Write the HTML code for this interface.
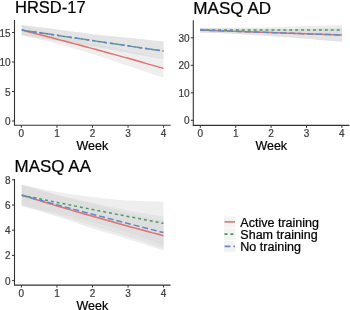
<!DOCTYPE html><html><head><meta charset="utf-8"><style>html,body{margin:0;padding:0;background:#fff;width:350px;height:310px;overflow:hidden}svg{display:block;filter:blur(0.3px)}</style></head><body><svg width="350" height="310" viewBox="0 0 350 310" font-family='"Liberation Sans", sans-serif'>
<style>text{stroke-width:0.22px}</style>
<rect width="350" height="310" fill="#fff"/>
<polygon points="21.80,25.00 25.34,25.96 28.88,26.93 32.43,27.91 35.97,28.88 39.51,29.85 43.05,30.82 46.59,31.78 50.14,32.73 53.68,33.67 57.22,34.59 60.76,35.49 64.30,36.39 67.85,37.27 71.39,38.15 74.93,39.02 78.47,39.87 82.01,40.72 85.56,41.56 89.10,42.38 92.64,43.20 96.18,44.00 99.72,44.78 103.27,45.55 106.81,46.30 110.35,47.05 113.89,47.79 117.43,48.54 120.98,49.29 124.52,50.06 128.06,50.84 131.60,51.63 135.14,52.44 138.69,53.25 142.23,54.06 145.77,54.89 149.31,55.71 152.85,56.53 156.40,57.36 159.94,58.18 163.48,59.00 163.48,77.80 159.94,76.60 156.40,75.41 152.85,74.21 149.31,73.01 145.77,71.81 142.23,70.61 138.69,69.42 135.14,68.22 131.60,67.03 128.06,65.84 124.52,64.64 120.98,63.44 117.43,62.23 113.89,61.02 110.35,59.81 106.81,58.61 103.27,57.43 99.72,56.26 96.18,55.12 92.64,54.00 89.10,52.91 85.56,51.83 82.01,50.77 78.47,49.72 74.93,48.69 71.39,47.68 67.85,46.68 64.30,45.70 60.76,44.74 57.22,43.79 53.68,42.86 50.14,41.97 46.59,41.09 43.05,40.24 39.51,39.39 35.97,38.56 32.43,37.73 28.88,36.89 25.34,36.05 21.80,35.20" fill="#d4d4d4" fill-opacity="0.4"/>
<polygon points="21.80,25.00 25.34,25.44 28.88,25.89 32.43,26.33 35.97,26.77 39.51,27.21 43.05,27.65 46.59,28.09 50.14,28.54 53.68,28.99 57.22,29.45 60.76,29.92 64.30,30.40 67.85,30.89 71.39,31.38 74.93,31.88 78.47,32.36 82.01,32.85 85.56,33.32 89.10,33.77 92.64,34.20 96.18,34.61 99.72,35.00 103.27,35.38 106.81,35.74 110.35,36.09 113.89,36.44 117.43,36.79 120.98,37.14 124.52,37.49 128.06,37.85 131.60,38.22 135.14,38.58 138.69,38.95 142.23,39.31 145.77,39.67 149.31,40.04 152.85,40.40 156.40,40.77 159.94,41.13 163.48,41.50 163.48,59.10 159.94,58.45 156.40,57.81 152.85,57.16 149.31,56.51 145.77,55.86 142.23,55.22 138.69,54.57 135.14,53.93 131.60,53.29 128.06,52.65 124.52,52.01 120.98,51.38 117.43,50.74 113.89,50.10 110.35,49.47 106.81,48.84 103.27,48.22 99.72,47.60 96.18,47.00 92.64,46.40 89.10,45.82 85.56,45.25 82.01,44.69 78.47,44.13 74.93,43.59 71.39,43.04 67.85,42.50 64.30,41.96 60.76,41.41 57.22,40.85 53.68,40.29 50.14,39.73 46.59,39.16 43.05,38.60 39.51,38.03 35.97,37.46 32.43,36.90 28.88,36.33 25.34,35.77 21.80,35.20" fill="#d4d4d4" fill-opacity="0.4"/>
<polygon points="21.80,25.00 25.34,25.44 28.88,25.89 32.43,26.33 35.97,26.77 39.51,27.21 43.05,27.65 46.59,28.09 50.14,28.54 53.68,28.99 57.22,29.45 60.76,29.92 64.30,30.40 67.85,30.89 71.39,31.38 74.93,31.88 78.47,32.36 82.01,32.85 85.56,33.32 89.10,33.77 92.64,34.20 96.18,34.61 99.72,35.00 103.27,35.38 106.81,35.74 110.35,36.09 113.89,36.44 117.43,36.79 120.98,37.14 124.52,37.49 128.06,37.85 131.60,38.22 135.14,38.58 138.69,38.95 142.23,39.31 145.77,39.67 149.31,40.04 152.85,40.40 156.40,40.77 159.94,41.13 163.48,41.50 163.48,59.10 159.94,58.45 156.40,57.81 152.85,57.16 149.31,56.51 145.77,55.86 142.23,55.22 138.69,54.57 135.14,53.93 131.60,53.29 128.06,52.65 124.52,52.01 120.98,51.38 117.43,50.74 113.89,50.10 110.35,49.47 106.81,48.84 103.27,48.22 99.72,47.60 96.18,47.00 92.64,46.40 89.10,45.82 85.56,45.25 82.01,44.69 78.47,44.13 74.93,43.59 71.39,43.04 67.85,42.50 64.30,41.96 60.76,41.41 57.22,40.85 53.68,40.29 50.14,39.73 46.59,39.16 43.05,38.60 39.51,38.03 35.97,37.46 32.43,36.90 28.88,36.33 25.34,35.77 21.80,35.20" fill="#d4d4d4" fill-opacity="0.4"/>
<polyline points="21.80,30.10 25.34,31.01 28.88,31.91 32.43,32.82 35.97,33.72 39.51,34.62 43.05,35.53 46.59,36.44 50.14,37.35 53.68,38.27 57.22,39.19 60.76,40.11 64.30,41.04 67.85,41.98 71.39,42.91 74.93,43.85 78.47,44.80 82.01,45.74 85.56,46.69 89.10,47.64 92.64,48.60 96.18,49.56 99.72,50.52 103.27,51.49 106.81,52.46 110.35,53.43 113.89,54.40 117.43,55.38 120.98,56.36 124.52,57.35 128.06,58.34 131.60,59.33 135.14,60.33 138.69,61.33 142.23,62.34 145.77,63.35 149.31,64.36 152.85,65.37 156.40,66.38 159.94,67.39 163.48,68.40" fill="none" stroke="#DE726E" stroke-width="1.5"/>
<polyline points="21.80,30.10 25.34,30.62 28.88,31.15 32.43,31.68 35.97,32.20 39.51,32.73 43.05,33.25 46.59,33.77 50.14,34.30 53.68,34.83 57.22,35.35 60.76,35.88 64.30,36.40 67.85,36.93 71.39,37.45 74.93,37.98 78.47,38.50 82.01,39.02 85.56,39.55 89.10,40.08 92.64,40.60 96.18,41.12 99.72,41.65 103.27,42.18 106.81,42.70 110.35,43.23 113.89,43.75 117.43,44.28 120.98,44.80 124.52,45.33 128.06,45.85 131.60,46.38 135.14,46.90 138.69,47.43 142.23,47.95 145.77,48.48 149.31,49.00 152.85,49.52 156.40,50.05 159.94,50.57 163.48,51.10" fill="none" stroke="#4C9A62" stroke-width="1.5" stroke-dasharray="2.97 2.96"/>
<polyline points="21.80,30.10 25.34,30.62 28.88,31.15 32.43,31.68 35.97,32.20 39.51,32.73 43.05,33.25 46.59,33.77 50.14,34.30 53.68,34.83 57.22,35.35 60.76,35.88 64.30,36.40 67.85,36.93 71.39,37.45 74.93,37.98 78.47,38.50 82.01,39.02 85.56,39.55 89.10,40.08 92.64,40.60 96.18,41.12 99.72,41.65 103.27,42.18 106.81,42.70 110.35,43.23 113.89,43.75 117.43,44.28 120.98,44.80 124.52,45.33 128.06,45.85 131.60,46.38 135.14,46.90 138.69,47.43 142.23,47.95 145.77,48.48 149.31,49.00 152.85,49.52 156.40,50.05 159.94,50.57 163.48,51.10" fill="none" stroke="#6886CA" stroke-width="1.5" stroke-dasharray="6.0 2.9"/>
<path d="M14.5 20 V125.3 H170.6" fill="none" stroke="#333" stroke-width="1.1"/>
<path d="M12.0 121.00 H14.5" stroke="#333" stroke-width="1"/>
<text x="10.6" y="125.00" text-anchor="end" font-size="10" fill="#3D3D3D" stroke="#3D3D3D">0</text>
<path d="M12.0 91.50 H14.5" stroke="#333" stroke-width="1"/>
<text x="10.6" y="95.50" text-anchor="end" font-size="10" fill="#3D3D3D" stroke="#3D3D3D">5</text>
<path d="M12.0 62.00 H14.5" stroke="#333" stroke-width="1"/>
<text x="10.6" y="66.00" text-anchor="end" font-size="10" fill="#3D3D3D" stroke="#3D3D3D">10</text>
<path d="M12.0 32.50 H14.5" stroke="#333" stroke-width="1"/>
<text x="10.6" y="36.50" text-anchor="end" font-size="10" fill="#3D3D3D" stroke="#3D3D3D">15</text>
<path d="M21.40 125.3 V127.8" stroke="#333" stroke-width="1"/>
<text x="21.40" y="137.10" text-anchor="middle" font-size="10" fill="#3D3D3D" stroke="#3D3D3D">0</text>
<path d="M56.95 125.3 V127.8" stroke="#333" stroke-width="1"/>
<text x="56.95" y="137.10" text-anchor="middle" font-size="10" fill="#3D3D3D" stroke="#3D3D3D">1</text>
<path d="M92.50 125.3 V127.8" stroke="#333" stroke-width="1"/>
<text x="92.50" y="137.10" text-anchor="middle" font-size="10" fill="#3D3D3D" stroke="#3D3D3D">2</text>
<path d="M128.05 125.3 V127.8" stroke="#333" stroke-width="1"/>
<text x="128.05" y="137.10" text-anchor="middle" font-size="10" fill="#3D3D3D" stroke="#3D3D3D">3</text>
<path d="M163.60 125.3 V127.8" stroke="#333" stroke-width="1"/>
<text x="163.60" y="137.10" text-anchor="middle" font-size="10" fill="#3D3D3D" stroke="#3D3D3D">4</text>
<text x="92.35" y="149.8" text-anchor="middle" font-size="12.5" fill="#000" stroke="#000">Week</text>
<text x="15.0" y="13.4" font-size="16.5" fill="#000" stroke="#000">HRSD-17</text>
<polygon points="200.30,27.80 203.84,27.90 207.38,28.00 210.92,28.10 214.46,28.20 218.00,28.31 221.54,28.41 225.08,28.50 228.62,28.58 232.16,28.66 235.70,28.73 239.24,28.78 242.78,28.82 246.32,28.86 249.86,28.88 253.40,28.91 256.94,28.92 260.48,28.93 264.02,28.94 267.56,28.95 271.10,28.95 274.64,28.95 278.18,28.95 281.72,28.94 285.26,28.93 288.80,28.92 292.34,28.90 295.88,28.88 299.42,28.85 302.96,28.81 306.50,28.77 310.04,28.73 313.58,28.67 317.12,28.61 320.66,28.54 324.20,28.47 327.74,28.39 331.28,28.32 334.82,28.24 338.36,28.17 341.90,28.10 341.90,41.90 338.36,41.59 334.82,41.27 331.28,40.95 327.74,40.63 324.20,40.31 320.66,39.99 317.12,39.68 313.58,39.37 310.04,39.07 306.50,38.77 302.96,38.49 299.42,38.21 295.88,37.94 292.34,37.67 288.80,37.41 285.26,37.15 281.72,36.89 278.18,36.64 274.64,36.39 271.10,36.15 267.56,35.91 264.02,35.67 260.48,35.43 256.94,35.20 253.40,34.97 249.86,34.75 246.32,34.53 242.78,34.32 239.24,34.12 235.70,33.93 232.16,33.74 228.62,33.58 225.08,33.42 221.54,33.26 218.00,33.12 214.46,32.98 210.92,32.84 207.38,32.69 203.84,32.55 200.30,32.40" fill="#d4d4d4" fill-opacity="0.4"/>
<polygon points="200.30,27.80 203.84,27.78 207.38,27.77 210.92,27.75 214.46,27.74 218.00,27.73 221.54,27.71 225.08,27.69 228.62,27.67 232.16,27.64 235.70,27.60 239.24,27.56 242.78,27.51 246.32,27.46 249.86,27.41 253.40,27.35 256.94,27.29 260.48,27.22 264.02,27.15 267.56,27.08 271.10,27.00 274.64,26.92 278.18,26.83 281.72,26.74 285.26,26.64 288.80,26.54 292.34,26.43 295.88,26.33 299.42,26.22 302.96,26.11 306.50,26.00 310.04,25.89 313.58,25.77 317.12,25.65 320.66,25.53 324.20,25.41 327.74,25.29 331.28,25.17 334.82,25.04 338.36,24.92 341.90,24.80 341.90,35.40 338.36,35.28 334.82,35.16 331.28,35.03 327.74,34.91 324.20,34.79 320.66,34.67 317.12,34.55 313.58,34.43 310.04,34.31 306.50,34.20 302.96,34.09 299.42,33.98 295.88,33.87 292.34,33.77 288.80,33.66 285.26,33.56 281.72,33.46 278.18,33.37 274.64,33.28 271.10,33.20 267.56,33.12 264.02,33.05 260.48,32.98 256.94,32.91 253.40,32.85 249.86,32.79 246.32,32.74 242.78,32.69 239.24,32.64 235.70,32.60 232.16,32.56 228.62,32.53 225.08,32.51 221.54,32.49 218.00,32.48 214.46,32.46 210.92,32.45 207.38,32.43 203.84,32.42 200.30,32.40" fill="#d4d4d4" fill-opacity="0.4"/>
<polygon points="200.30,27.80 203.84,27.90 207.38,28.00 210.92,28.10 214.46,28.20 218.00,28.31 221.54,28.41 225.08,28.50 228.62,28.58 232.16,28.66 235.70,28.73 239.24,28.78 242.78,28.82 246.32,28.86 249.86,28.88 253.40,28.91 256.94,28.92 260.48,28.93 264.02,28.94 267.56,28.95 271.10,28.95 274.64,28.95 278.18,28.95 281.72,28.94 285.26,28.93 288.80,28.92 292.34,28.90 295.88,28.88 299.42,28.85 302.96,28.81 306.50,28.77 310.04,28.73 313.58,28.67 317.12,28.61 320.66,28.54 324.20,28.47 327.74,28.39 331.28,28.32 334.82,28.24 338.36,28.17 341.90,28.10 341.90,41.90 338.36,41.59 334.82,41.27 331.28,40.95 327.74,40.63 324.20,40.31 320.66,39.99 317.12,39.68 313.58,39.37 310.04,39.07 306.50,38.77 302.96,38.49 299.42,38.21 295.88,37.94 292.34,37.67 288.80,37.41 285.26,37.15 281.72,36.89 278.18,36.64 274.64,36.39 271.10,36.15 267.56,35.91 264.02,35.67 260.48,35.43 256.94,35.20 253.40,34.97 249.86,34.75 246.32,34.53 242.78,34.32 239.24,34.12 235.70,33.93 232.16,33.74 228.62,33.58 225.08,33.42 221.54,33.26 218.00,33.12 214.46,32.98 210.92,32.84 207.38,32.69 203.84,32.55 200.30,32.40" fill="#d4d4d4" fill-opacity="0.4"/>
<polyline points="200.30,30.10 203.84,30.22 207.38,30.35 210.92,30.47 214.46,30.59 218.00,30.71 221.54,30.84 225.08,30.96 228.62,31.08 232.16,31.20 235.70,31.33 239.24,31.45 242.78,31.57 246.32,31.69 249.86,31.82 253.40,31.94 256.94,32.06 260.48,32.18 264.02,32.31 267.56,32.43 271.10,32.55 274.64,32.67 278.18,32.79 281.72,32.92 285.26,33.04 288.80,33.16 292.34,33.28 295.88,33.41 299.42,33.53 302.96,33.65 306.50,33.77 310.04,33.90 313.58,34.02 317.12,34.14 320.66,34.27 324.20,34.39 327.74,34.51 331.28,34.63 334.82,34.76 338.36,34.88 341.90,35.00" fill="none" stroke="#DE726E" stroke-width="1.5"/>
<polyline points="200.30,30.10 203.84,30.10 207.38,30.10 210.92,30.10 214.46,30.10 218.00,30.10 221.54,30.10 225.08,30.10 228.62,30.10 232.16,30.10 235.70,30.10 239.24,30.10 242.78,30.10 246.32,30.10 249.86,30.10 253.40,30.10 256.94,30.10 260.48,30.10 264.02,30.10 267.56,30.10 271.10,30.10 274.64,30.10 278.18,30.10 281.72,30.10 285.26,30.10 288.80,30.10 292.34,30.10 295.88,30.10 299.42,30.10 302.96,30.10 306.50,30.10 310.04,30.10 313.58,30.10 317.12,30.10 320.66,30.10 324.20,30.10 327.74,30.10 331.28,30.10 334.82,30.10 338.36,30.10 341.90,30.10" fill="none" stroke="#4C9A62" stroke-width="1.5" stroke-dasharray="2.97 2.96"/>
<polyline points="200.30,30.10 203.84,30.22 207.38,30.35 210.92,30.47 214.46,30.59 218.00,30.71 221.54,30.84 225.08,30.96 228.62,31.08 232.16,31.20 235.70,31.33 239.24,31.45 242.78,31.57 246.32,31.69 249.86,31.82 253.40,31.94 256.94,32.06 260.48,32.18 264.02,32.31 267.56,32.43 271.10,32.55 274.64,32.67 278.18,32.79 281.72,32.92 285.26,33.04 288.80,33.16 292.34,33.28 295.88,33.41 299.42,33.53 302.96,33.65 306.50,33.77 310.04,33.90 313.58,34.02 317.12,34.14 320.66,34.27 324.20,34.39 327.74,34.51 331.28,34.63 334.82,34.76 338.36,34.88 341.90,35.00" fill="none" stroke="#6886CA" stroke-width="1.5" stroke-dasharray="6.0 2.9"/>
<path d="M193.3 20.2 V125.4 H349.4" fill="none" stroke="#333" stroke-width="1.1"/>
<path d="M190.8 120.30 H193.3" stroke="#333" stroke-width="1"/>
<text x="189.6" y="124.30" text-anchor="end" font-size="10" fill="#3D3D3D" stroke="#3D3D3D">0</text>
<path d="M190.8 92.80 H193.3" stroke="#333" stroke-width="1"/>
<text x="189.6" y="96.80" text-anchor="end" font-size="10" fill="#3D3D3D" stroke="#3D3D3D">10</text>
<path d="M190.8 65.30 H193.3" stroke="#333" stroke-width="1"/>
<text x="189.6" y="69.30" text-anchor="end" font-size="10" fill="#3D3D3D" stroke="#3D3D3D">20</text>
<path d="M190.8 37.80 H193.3" stroke="#333" stroke-width="1"/>
<text x="189.6" y="41.80" text-anchor="end" font-size="10" fill="#3D3D3D" stroke="#3D3D3D">30</text>
<path d="M200.30 125.4 V127.9" stroke="#333" stroke-width="1"/>
<text x="200.30" y="137.20" text-anchor="middle" font-size="10" fill="#3D3D3D" stroke="#3D3D3D">0</text>
<path d="M235.70 125.4 V127.9" stroke="#333" stroke-width="1"/>
<text x="235.70" y="137.20" text-anchor="middle" font-size="10" fill="#3D3D3D" stroke="#3D3D3D">1</text>
<path d="M271.10 125.4 V127.9" stroke="#333" stroke-width="1"/>
<text x="271.10" y="137.20" text-anchor="middle" font-size="10" fill="#3D3D3D" stroke="#3D3D3D">2</text>
<path d="M306.50 125.4 V127.9" stroke="#333" stroke-width="1"/>
<text x="306.50" y="137.20" text-anchor="middle" font-size="10" fill="#3D3D3D" stroke="#3D3D3D">3</text>
<path d="M341.90 125.4 V127.9" stroke="#333" stroke-width="1"/>
<text x="341.90" y="137.20" text-anchor="middle" font-size="10" fill="#3D3D3D" stroke="#3D3D3D">4</text>
<text x="271.25" y="149.9" text-anchor="middle" font-size="12.5" fill="#000" stroke="#000">Week</text>
<text x="193.3" y="13.6" font-size="16.5" fill="#000" stroke="#000" textLength="77.9" lengthAdjust="spacingAndGlyphs">MASQ AD</text>
<polygon points="21.80,184.60 25.34,185.69 28.88,186.78 32.43,187.89 35.97,189.00 39.51,190.11 43.05,191.20 46.59,192.28 50.14,193.34 53.68,194.37 57.22,195.36 60.76,196.32 64.30,197.23 67.85,198.11 71.39,198.98 74.93,199.82 78.47,200.66 82.01,201.50 85.56,202.35 89.10,203.21 92.64,204.10 96.18,205.02 99.72,205.96 103.27,206.91 106.81,207.88 110.35,208.84 113.89,209.80 117.43,210.74 120.98,211.66 124.52,212.56 128.06,213.41 131.60,214.23 135.14,215.01 138.69,215.77 142.23,216.51 145.77,217.23 149.31,217.94 152.85,218.64 156.40,219.35 159.94,220.07 163.48,220.80 163.48,250.60 159.94,249.44 156.40,248.27 152.85,247.09 149.31,245.91 145.77,244.74 142.23,243.57 138.69,242.41 135.14,241.26 131.60,240.13 128.06,239.01 124.52,237.92 120.98,236.86 117.43,235.82 113.89,234.80 110.35,233.78 106.81,232.76 103.27,231.72 99.72,230.68 96.18,229.60 92.64,228.50 89.10,227.36 85.56,226.18 82.01,224.99 78.47,223.77 74.93,222.55 71.39,221.32 67.85,220.10 64.30,218.90 60.76,217.72 57.22,216.56 53.68,215.44 50.14,214.33 46.59,213.25 43.05,212.17 39.51,211.11 35.97,210.05 32.43,208.99 28.88,207.93 25.34,206.87 21.80,205.80" fill="#d4d4d4" fill-opacity="0.4"/>
<polygon points="21.80,184.80 25.34,185.52 28.88,186.25 32.43,187.00 35.97,187.74 39.51,188.48 43.05,189.21 46.59,189.93 50.14,190.62 53.68,191.28 57.22,191.91 60.76,192.51 64.30,193.09 67.85,193.64 71.39,194.17 74.93,194.68 78.47,195.18 82.01,195.66 85.56,196.12 89.10,196.57 92.64,197.00 96.18,197.42 99.72,197.83 103.27,198.23 106.81,198.61 110.35,198.97 113.89,199.32 117.43,199.64 120.98,199.94 124.52,200.21 128.06,200.46 131.60,200.68 135.14,200.85 138.69,201.00 142.23,201.12 145.77,201.22 149.31,201.31 152.85,201.40 156.40,201.49 159.94,201.59 163.48,201.70 163.48,244.90 159.94,243.65 156.40,242.38 152.85,241.11 149.31,239.83 145.77,238.56 142.23,237.30 138.69,236.05 135.14,234.82 131.60,233.63 128.06,232.46 124.52,231.33 120.98,230.22 117.43,229.14 113.89,228.07 110.35,227.02 106.81,225.99 103.27,224.98 99.72,223.97 96.18,222.98 92.64,222.00 89.10,221.03 85.56,220.07 82.01,219.12 78.47,218.18 74.93,217.26 71.39,216.35 67.85,215.46 64.30,214.59 60.76,213.74 57.22,212.91 53.68,212.11 50.14,211.34 46.59,210.59 43.05,209.86 39.51,209.15 35.97,208.44 32.43,207.74 28.88,207.03 25.34,206.32 21.80,205.60" fill="#d4d4d4" fill-opacity="0.4"/>
<polygon points="21.80,184.70 25.34,185.70 28.88,186.72 32.43,187.74 35.97,188.77 39.51,189.79 43.05,190.80 46.59,191.80 50.14,192.78 53.68,193.73 57.22,194.65 60.76,195.54 64.30,196.40 67.85,197.24 71.39,198.06 74.93,198.86 78.47,199.66 82.01,200.44 85.56,201.22 89.10,202.01 92.64,202.80 96.18,203.60 99.72,204.40 103.27,205.21 106.81,206.01 110.35,206.81 113.89,207.59 117.43,208.36 120.98,209.12 124.52,209.85 128.06,210.55 131.60,211.22 135.14,211.87 138.69,212.49 142.23,213.09 145.77,213.68 149.31,214.26 152.85,214.84 156.40,215.42 159.94,216.00 163.48,216.60 163.48,248.60 159.94,247.39 156.40,246.17 152.85,244.94 149.31,243.72 145.77,242.49 142.23,241.28 138.69,240.07 135.14,238.88 131.60,237.70 128.06,236.55 124.52,235.42 120.98,234.32 117.43,233.23 113.89,232.16 110.35,231.09 106.81,230.04 103.27,228.98 99.72,227.93 96.18,226.87 92.64,225.80 89.10,224.72 85.56,223.63 82.01,222.53 78.47,221.43 74.93,220.34 71.39,219.25 67.85,218.17 64.30,217.11 60.76,216.07 57.22,215.05 53.68,214.06 50.14,213.09 46.59,212.14 43.05,211.21 39.51,210.29 35.97,209.37 32.43,208.46 28.88,207.55 25.34,206.63 21.80,205.70" fill="#d4d4d4" fill-opacity="0.4"/>
<polyline points="21.80,195.20 25.34,196.28 28.88,197.36 32.43,198.44 35.97,199.53 39.51,200.61 43.05,201.69 46.59,202.76 50.14,203.84 53.68,204.90 57.22,205.96 60.76,207.02 64.30,208.06 67.85,209.11 71.39,210.15 74.93,211.18 78.47,212.22 82.01,213.24 85.56,214.27 89.10,215.29 92.64,216.30 96.18,217.31 99.72,218.32 103.27,219.32 106.81,220.32 110.35,221.31 113.89,222.30 117.43,223.28 120.98,224.26 124.52,225.24 128.06,226.21 131.60,227.18 135.14,228.14 138.69,229.09 142.23,230.04 145.77,230.98 149.31,231.93 152.85,232.87 156.40,233.81 159.94,234.75 163.48,235.70" fill="none" stroke="#DE726E" stroke-width="1.5"/>
<polyline points="21.80,195.20 25.34,195.92 28.88,196.64 32.43,197.37 35.97,198.09 39.51,198.81 43.05,199.54 46.59,200.26 50.14,200.98 53.68,201.70 57.22,202.41 60.76,203.13 64.30,203.84 67.85,204.55 71.39,205.26 74.93,205.97 78.47,206.68 82.01,207.39 85.56,208.09 89.10,208.80 92.64,209.50 96.18,210.20 99.72,210.90 103.27,211.60 106.81,212.30 110.35,213.00 113.89,213.69 117.43,214.39 120.98,215.08 124.52,215.77 128.06,216.46 131.60,217.15 135.14,217.84 138.69,218.52 142.23,219.21 145.77,219.89 149.31,220.57 152.85,221.25 156.40,221.93 159.94,222.62 163.48,223.30" fill="none" stroke="#4C9A62" stroke-width="1.5" stroke-dasharray="2.97 2.96"/>
<polyline points="21.80,195.20 25.34,196.17 28.88,197.13 32.43,198.10 35.97,199.07 39.51,200.04 43.05,201.00 46.59,201.97 50.14,202.93 53.68,203.89 57.22,204.85 60.76,205.80 64.30,206.76 67.85,207.71 71.39,208.65 74.93,209.60 78.47,210.54 82.01,211.49 85.56,212.43 89.10,213.36 92.64,214.30 96.18,215.23 99.72,216.17 103.27,217.10 106.81,218.02 110.35,218.95 113.89,219.87 117.43,220.80 120.98,221.72 124.52,222.63 128.06,223.55 131.60,224.46 135.14,225.37 138.69,226.28 142.23,227.18 145.77,228.09 149.31,228.99 152.85,229.89 156.40,230.79 159.94,231.70 163.48,232.60" fill="none" stroke="#6886CA" stroke-width="1.5" stroke-dasharray="6.0 2.9"/>
<path d="M14.5 179 V285.1 H170.6" fill="none" stroke="#333" stroke-width="1.1"/>
<path d="M12.0 280.60 H14.5" stroke="#333" stroke-width="1"/>
<text x="10.6" y="284.60" text-anchor="end" font-size="10" fill="#3D3D3D" stroke="#3D3D3D">0</text>
<path d="M12.0 255.40 H14.5" stroke="#333" stroke-width="1"/>
<text x="10.6" y="259.40" text-anchor="end" font-size="10" fill="#3D3D3D" stroke="#3D3D3D">2</text>
<path d="M12.0 230.20 H14.5" stroke="#333" stroke-width="1"/>
<text x="10.6" y="234.20" text-anchor="end" font-size="10" fill="#3D3D3D" stroke="#3D3D3D">4</text>
<path d="M12.0 205.00 H14.5" stroke="#333" stroke-width="1"/>
<text x="10.6" y="209.00" text-anchor="end" font-size="10" fill="#3D3D3D" stroke="#3D3D3D">6</text>
<path d="M12.0 179.80 H14.5" stroke="#333" stroke-width="1"/>
<text x="10.6" y="183.80" text-anchor="end" font-size="10" fill="#3D3D3D" stroke="#3D3D3D">8</text>
<path d="M21.40 285.1 V287.6" stroke="#333" stroke-width="1"/>
<text x="21.40" y="296.90" text-anchor="middle" font-size="10" fill="#3D3D3D" stroke="#3D3D3D">0</text>
<path d="M56.95 285.1 V287.6" stroke="#333" stroke-width="1"/>
<text x="56.95" y="296.90" text-anchor="middle" font-size="10" fill="#3D3D3D" stroke="#3D3D3D">1</text>
<path d="M92.50 285.1 V287.6" stroke="#333" stroke-width="1"/>
<text x="92.50" y="296.90" text-anchor="middle" font-size="10" fill="#3D3D3D" stroke="#3D3D3D">2</text>
<path d="M128.05 285.1 V287.6" stroke="#333" stroke-width="1"/>
<text x="128.05" y="296.90" text-anchor="middle" font-size="10" fill="#3D3D3D" stroke="#3D3D3D">3</text>
<path d="M163.60 285.1 V287.6" stroke="#333" stroke-width="1"/>
<text x="163.60" y="296.90" text-anchor="middle" font-size="10" fill="#3D3D3D" stroke="#3D3D3D">4</text>
<text x="92.35" y="309.6" text-anchor="middle" font-size="12.5" fill="#000" stroke="#000">Week</text>
<text x="14.6" y="172.4" font-size="16.5" fill="#000" stroke="#000" textLength="76.4" lengthAdjust="spacingAndGlyphs">MASQ AA</text>
<rect x="224" y="216.30" width="11.5" height="11.4" fill="#d4d4d4" fill-opacity="0.27"/>
<path d="M224.5 221.90 H235" stroke="#CC8580" stroke-width="1.7"/>
<text x="240.3" y="226.50" font-size="12" fill="#000" stroke="#000" textLength="78.77" lengthAdjust="spacingAndGlyphs">Active training</text>
<rect x="224" y="228.60" width="11.5" height="11.4" fill="#d4d4d4" fill-opacity="0.27"/>
<path d="M224.5 234.20 H235" stroke="#4E9160" stroke-width="1.7" stroke-dasharray="2.97 2.96"/>
<text x="240.3" y="238.80" font-size="12" fill="#000" stroke="#000" textLength="77.38" lengthAdjust="spacingAndGlyphs">Sham training</text>
<rect x="224" y="240.70" width="11.5" height="11.4" fill="#d4d4d4" fill-opacity="0.27"/>
<path d="M224.5 246.30 H235" stroke="#6E88C4" stroke-width="1.7" stroke-dasharray="6.0 2.9"/>
<text x="240.3" y="250.90" font-size="12" fill="#000" stroke="#000" textLength="60.64" lengthAdjust="spacingAndGlyphs">No training</text>
</svg></body></html>
